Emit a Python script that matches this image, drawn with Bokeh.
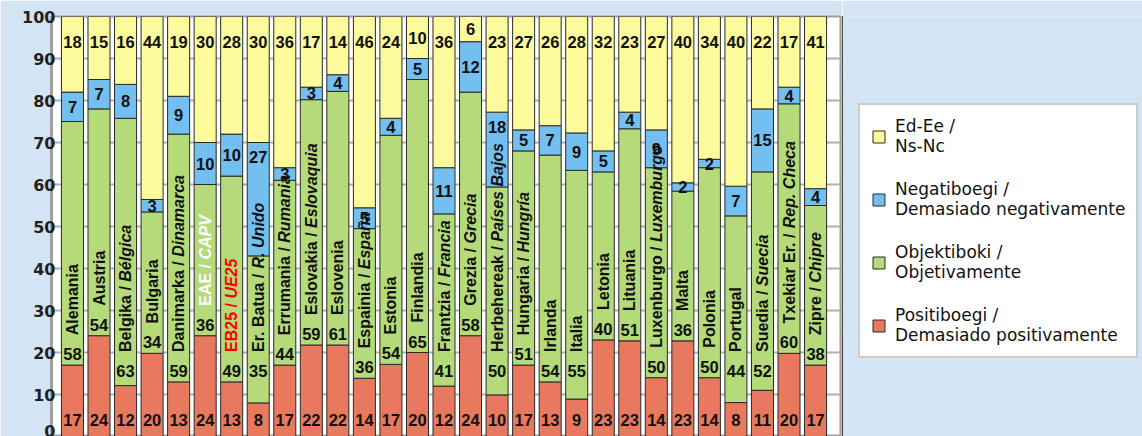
import math
from bokeh.plotting import figure
from bokeh.layouts import row
from bokeh.models import ColumnDataSource, Legend, LegendItem, Range1d, FixedTicker
from bokeh.core.properties import value
from bokeh.embed import file_html
from bokeh.resources import INLINE

# ---------------- data ----------------
name_eu = ["Alemania", "Austria", "Belgika / ", "Bulgaria", "Danimarka / ", "EAE / ", "EB25 / ",
           "Er. Batua / ", "Errumania / ", "Eslovakia / ", "Eslovenia", "Espainia / ", "Estonia",
           "Finlandia", "Frantzia / ", "Grezia / ", "Herbehereak / ", "Hungaria / ", "Irlanda",
           "Italia", "Letonia", "Lituania", "Luxenburgo / ", "Malta", "Polonia", "Portugal",
           "Suedia / ", "Txekiar Er. / ", "Zipre / "]
name_es = ["", "", "Bélgica", "", "Dinamarca", "CAPV", "UE25", "R. Unido", "Rumania", "Eslovaquia",
           "", "España", "", "", "Francia", "Grecia", "Países Bajos", "Hungría", "", "", "", "",
           "Luxemburgo", "", "", "", "Suecia", "Rep. Checa", "Chipre"]
positive = [17, 24, 12, 20, 13, 24, 13, 8, 17, 22, 22, 14, 17, 20, 12, 24, 10, 17, 13, 9,
            23, 23, 14, 23, 14, 8, 11, 20, 17]
objective = [58, 54, 63, 34, 59, 36, 49, 35, 44, 59, 61, 36, 54, 65, 41, 58, 50, 51, 54, 55,
             40, 51, 50, 36, 50, 44, 52, 60, 38]
negative = [7, 7, 8, 3, 9, 10, 10, 27, 3, 3, 4, 5, 4, 5, 11, 12, 18, 5, 7, 9,
            5, 4, 9, 2, 2, 7, 15, 4, 4]
nsnc = [18, 15, 16, 44, 19, 30, 28, 30, 36, 17, 14, 46, 24, 10, 36, 6, 23, 27, 26, 28,
        32, 23, 27, 40, 34, 40, 22, 17, 41]
legend_line1 = ["Ed-Ee /", "Negatiboegi /", "Objektiboki /", "Positiboegi /"]
legend_line2 = ["Ns-Nc", "Demasiado negativamente", "Objetivamente", "Demasiado positivamente"]
y_ticks = [0, 10, 20, 30, 40, 50, 60, 70, 80, 90, 100]

# ---------------- styles ----------------
C_YEL, C_BLU, C_GRN, C_RED = "#fcfa9b", "#73c0f0", "#b4da7a", "#e8795f"
BG = "#d3e5f4"
NUM_FONT = "Liberation Sans"
NAME_PX = 16
NAME_GAP = 19
BAR_LINE = "#2a2a2a"

# Arial/Liberation Sans Bold advance widths (1/1000 em)
AW = {' ': 278, '/': 278, '.': 278, '2': 556, '5': 556, 'a': 556, 'b': 611, 'c': 556, 'd': 611,
      'e': 556, 'f': 333, 'g': 611, 'h': 611, 'i': 278, 'j': 278, 'k': 556, 'l': 278, 'm': 889,
      'n': 611, 'o': 611, 'p': 611, 'q': 611, 'r': 389, 's': 556, 't': 333, 'u': 611, 'v': 556,
      'w': 778, 'x': 556, 'y': 556, 'z': 500, 'A': 722, 'B': 722, 'C': 722, 'D': 722, 'E': 667,
      'F': 611, 'G': 778, 'H': 722, 'I': 278, 'L': 611, 'P': 667, 'R': 722, 'S': 667, 'T': 611,
      'U': 722, 'Z': 611}


def text_w(s, px):
    return sum(AW.get(ch, 556) for ch in s) / 1000.0 * px


n = len(name_eu)
xs = list(range(n))
b1, b2, b3, b4 = [], [], [], []
for i in range(n):
    tot = positive[i] + objective[i] + negative[i] + nsnc[i]
    b1.append(positive[i] / tot * 100)
    b2.append((positive[i] + objective[i]) / tot * 100)
    b3.append((positive[i] + objective[i] + negative[i]) / tot * 100)
    b4.append(100.0)

src = ColumnDataSource(dict(x=xs, zero=[0] * n, b1=b1, b2=b2, b3=b3, b4=b4))

p = figure(width=842, height=436, output_backend="svg", toolbar_location=None,
           x_axis_location=None, x_range=Range1d(-0.79, 28.94), y_range=Range1d(0, 100),
           min_border_left=51, min_border_right=2, min_border_top=16, min_border_bottom=0)
p.border_fill_color = BG
p.background_fill_color = "white"
p.outline_line_color = "#a0a0a0"
p.outline_line_width = 2

yax = p.yaxis[0]
yax.ticker = FixedTicker(ticks=y_ticks)
yax.axis_line_color = "#a0a0a0"
yax.axis_line_width = 3
yax.major_tick_line_color = None
yax.major_tick_out = 0
yax.major_tick_in = 0
yax.minor_tick_line_color = None
yax.major_label_standoff = -4
yax.major_label_text_font = "DejaVu Sans"
yax.major_label_text_font_style = "bold"
yax.major_label_text_font_size = "16px"
yax.major_label_text_color = "#231f20"
p.ygrid.grid_line_color = "#b0b0b0"
p.ygrid.grid_line_width = 2

W = 0.83
kw = dict(x="x", width=W, source=src, line_color=BAR_LINE, line_width=1)
r_pos = p.vbar(bottom="zero", top="b1", fill_color=C_RED, **kw)
r_obj = p.vbar(bottom="b1", top="b2", fill_color=C_GRN, **kw)
r_neg = p.vbar(bottom="b2", top="b3", fill_color=C_BLU, **kw)
r_ns = p.vbar(bottom="b3", top="b4", fill_color=C_YEL, **kw)

# ---- value labels ----
ly_pos, ly_obj, ly_neg, ly_ns = [], [], [], []
for i in range(n):
    ly_pos.append(0)
    ly_obj.append(max(b1[i] + 2.6, 15.6))
    seg = b3[i] - b2[i]
    ly_neg.append((b2[i] + b3[i]) / 2 if seg <= 15 else b3[i] - 3.5)
    segy = b4[i] - b3[i]
    ly_ns.append(b4[i] - min(6, segy / 2))

lab = ColumnDataSource(dict(x=xs, ypos=ly_pos, yobj=ly_obj, yneg=ly_neg, yns=ly_ns,
                            tpos=[str(v) for v in positive], tobj=[str(v) for v in objective],
                            tneg=[str(v) for v in negative], tns=[str(v) for v in nsnc]))
tkw = dict(x="x", source=lab, text_font=value(NUM_FONT), text_font_style="bold",
           text_font_size="16.5px", text_color="#111111", text_align="center",
           text_baseline="middle")
p.text(y="ypos", text="tpos", y_offset=-17, **tkw)
p.text(y="yobj", text="tobj", **tkw)
p.text(y="yneg", text="tneg", **tkw)
p.text(y="yns", text="tns", **tkw)

# ---- rotated country names ----
name_col = []
for s in name_eu:
    if s.startswith("EAE"):
        name_col.append("white")
    elif s.startswith("EB25"):
        name_col.append("#ff0000")
    else:
        name_col.append("#111111")
off1 = [-float(NAME_GAP)] * n
off2 = [-NAME_GAP - text_w(s, NAME_PX) for s in name_eu]
names = ColumnDataSource(dict(x=xs, y=ly_obj, t1=name_eu, t2=name_es, c=name_col,
                              o1=off1, o2=off2))
nkw = dict(x="x", y="y", source=names, angle=math.pi / 2, text_font=value(NUM_FONT),
           text_font_size=f"{NAME_PX}px", text_color="c", text_align="left",
           text_baseline="middle")
p.text(text="t1", y_offset="o1", text_font_style="bold", **nkw)
p.text(text="t2", y_offset="o2", text_font_style="bold italic", **nkw)

# ---- legend panel (separate figure to the right; same series, drawn off-view) ----
pl = figure(width=300, height=436, output_backend="svg", toolbar_location=None,
            x_axis_location=None, y_axis_location=None,
            x_range=Range1d(1000, 1001), y_range=Range1d(0, 100),
            min_border_left=0, min_border_right=0, min_border_top=0, min_border_bottom=0)
pl.border_fill_color = BG
pl.background_fill_color = BG
pl.outline_line_color = None
pl.grid.visible = False
lkw = dict(x="x", width=W, source=src, line_color=BAR_LINE, line_width=1)
l_ns = pl.vbar(bottom="b3", top="b4", fill_color=C_YEL, **lkw)
l_neg = pl.vbar(bottom="b2", top="b3", fill_color=C_BLU, **lkw)
l_obj = pl.vbar(bottom="b1", top="b2", fill_color=C_GRN, **lkw)
l_pos = pl.vbar(bottom="zero", top="b1", fill_color=C_RED, **lkw)
lrend = [l_ns, l_neg, l_obj, l_pos]
items = [LegendItem(label=f"{a}\n{b}", renderers=[r]) for a, b, r in zip(legend_line1, legend_line2, lrend)]
leg = Legend(items=items, location=(16, 78), orientation="vertical",
             label_text_font="DejaVu Sans", label_text_font_size="17px",
             label_text_color="#111111", label_standoff=9, glyph_width=15, glyph_height=15,
             spacing=23, padding=11, margin=0,
             border_line_color="#999999", border_line_width=2,
             background_fill_color="white", background_fill_alpha=1.0)
pl.add_layout(leg)

layout = row(p, pl, spacing=0)
open("out.html", "w").write(file_html(layout, INLINE))
